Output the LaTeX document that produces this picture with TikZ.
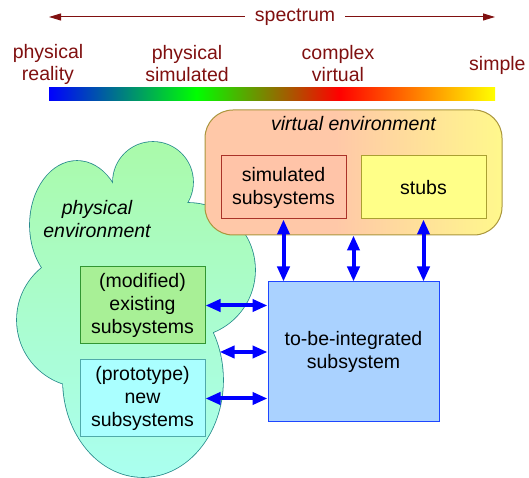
\documentclass[tikz,border=0pt]{standalone}
\usepackage{fontspec}
\setmainfont{Liberation Sans}
\usepackage{tikz}
\usetikzlibrary{shapes,arrows.meta,positioning}
\definecolor{darkred}{RGB}{128, 16, 16}
\definecolor{cloudtop}{RGB}{170, 250, 170}
\definecolor{cloudbot}{RGB}{170, 255, 240}
\definecolor{cloudline}{RGB}{40, 140, 140}
\definecolor{peach}{RGB}{255, 200, 168}
\definecolor{lightyellow}{RGB}{255, 248, 140}
\definecolor{venvline}{RGB}{170, 150, 60}
\definecolor{simfill}{RGB}{255, 196, 168}
\definecolor{simline}{RGB}{170, 50, 40}
\definecolor{stubfill}{RGB}{255, 255, 136}
\definecolor{stubline}{RGB}{170, 160, 50}
\definecolor{modfill}{RGB}{168, 240, 150}
\definecolor{modline}{RGB}{50, 150, 50}
\definecolor{protofill}{RGB}{170, 255, 255}
\definecolor{protoline}{RGB}{80, 170, 170}
\definecolor{integfill}{RGB}{170, 210, 255}
\definecolor{integline}{RGB}{30, 70, 255}
\pgfdeclarehorizontalshading{spectrumshade}{100bp}{color(0bp)=(blue); color(25bp)=(blue); color(41.5bp)=(green); color(57.5bp)=(red); color(75bp)=(yellow); color(100bp)=(yellow)}
\pgfdeclarehorizontalshading{venvshade}{100bp}{color(0bp)=(peach); color(25bp)=(peach); color(47bp)=(peach); color(75bp)=(lightyellow); color(100bp)=(lightyellow)}
\tikzstyle{spec} = [text=darkred, align=center, inner sep=0pt, font=\fontsize{19.5}{22}\selectfont]
\tikzstyle{specline} = [draw=darkred, line width=1pt, >={Triangle[length=12pt,width=7pt]}, ->]
\tikzstyle{envlabel} = [text=black, align=center, inner sep=0pt, font=\fontsize{19.5}{23}\itshape\selectfont]
\tikzstyle{sub} = [rectangle, line width=1pt, text=black, align=center, inner sep=2pt, font=\fontsize{19.5}{23}\selectfont, minimum width=125pt, minimum height=63pt]
\tikzstyle{barrow} = [draw=blue, line width=4pt, >={Triangle[length=15pt,width=12pt]}, <->]

\begin{document}
\begin{tikzpicture}[x=1pt, y=1pt]
\useasboundingbox (0,0) rectangle (529,478);

% spectrum =============================

\node[spec, inner sep=10pt] (spectrum) at (295,461) {spectrum};
\coordinate (specL) at (49,461);
\coordinate (specR) at (495,461);
\node[spec] (physreal) at (48,414) {physical\\reality};
\node[spec] (physsim) at (187,414) {physical\\simulated};
\node[spec] (cplxvirt) at (338,414) {complex\\virtual};
\node[spec, anchor=west] (simple) at (469,413) {simple};
\node[inner sep=0pt, minimum width=446pt, minimum height=13pt, shade, shading=spectrumshade] (bar) at (272,383.5) {};

\path[specline] (spectrum.west) -- (specL);
\path[specline] (spectrum.east) -- (specR);

% physical environment cloud
\shade[top color=cloudtop, bottom color=cloudbot, preaction={draw=cloudline, line width=1.6pt}]
  (143,98) ellipse [x radius=80pt, y radius=97pt]
  (84,158) circle [radius=67pt]
  (77,253) ellipse [x radius=47pt, y radius=64pt]
  (153,296) circle [radius=40pt]
  (188,208) circle [radius=67pt]
  (140,188) circle [radius=60pt]
  (130,248) circle [radius=35pt];
\node[envlabel] (physlabel) at (97,258.5) {physical\\environment};
\coordinate (cloudedge) at (219.6,126);

% subsystems =============================

\node[sub, draw=integline, fill=integfill, minimum width=171pt, minimum height=140pt] (integ) at (353.5,126) {to-be-integrated\\subsystem};

\node[draw=venvline, line width=1pt, rounded corners=28pt, shade, shading=venvshade, minimum width=297pt, minimum height=125pt, above=46pt of integ] (venv) {};
\node[envlabel] (venvlabel) at ([yshift=-14pt]venv.north) {virtual environment};
\node[sub, draw=simline, fill=simfill, above=62pt of integ, xshift=-70pt] (simsub) {simulated\\subsystems};
\node[sub, draw=stubline, fill=stubfill, above=62pt of integ, xshift=70pt] (stubs) {stubs};

\node[sub, draw=modline, fill=modfill, minimum height=77pt, left=62pt of integ, yshift=46.5pt] (modsub) {(modified)\\existing\\subsystems};
\node[sub, draw=protoline, fill=protofill, minimum height=77pt, left=62pt of integ, yshift=-46.5pt] (protosub) {(prototype)\\new\\subsystems};

%edges
\path[barrow] (simsub.south) -- (simsub.south |- integ.north);
\path[barrow] (venv.south) -- (integ.north);
\path[barrow] (stubs.south) -- (stubs.south |- integ.north);

\path[barrow] (modsub.east) -- (modsub.east -| integ.west);
\path[barrow] (cloudedge) -- (integ.west);
\path[barrow] (protosub.east) -- (protosub.east -| integ.west);

\end{tikzpicture}
\end{document}
